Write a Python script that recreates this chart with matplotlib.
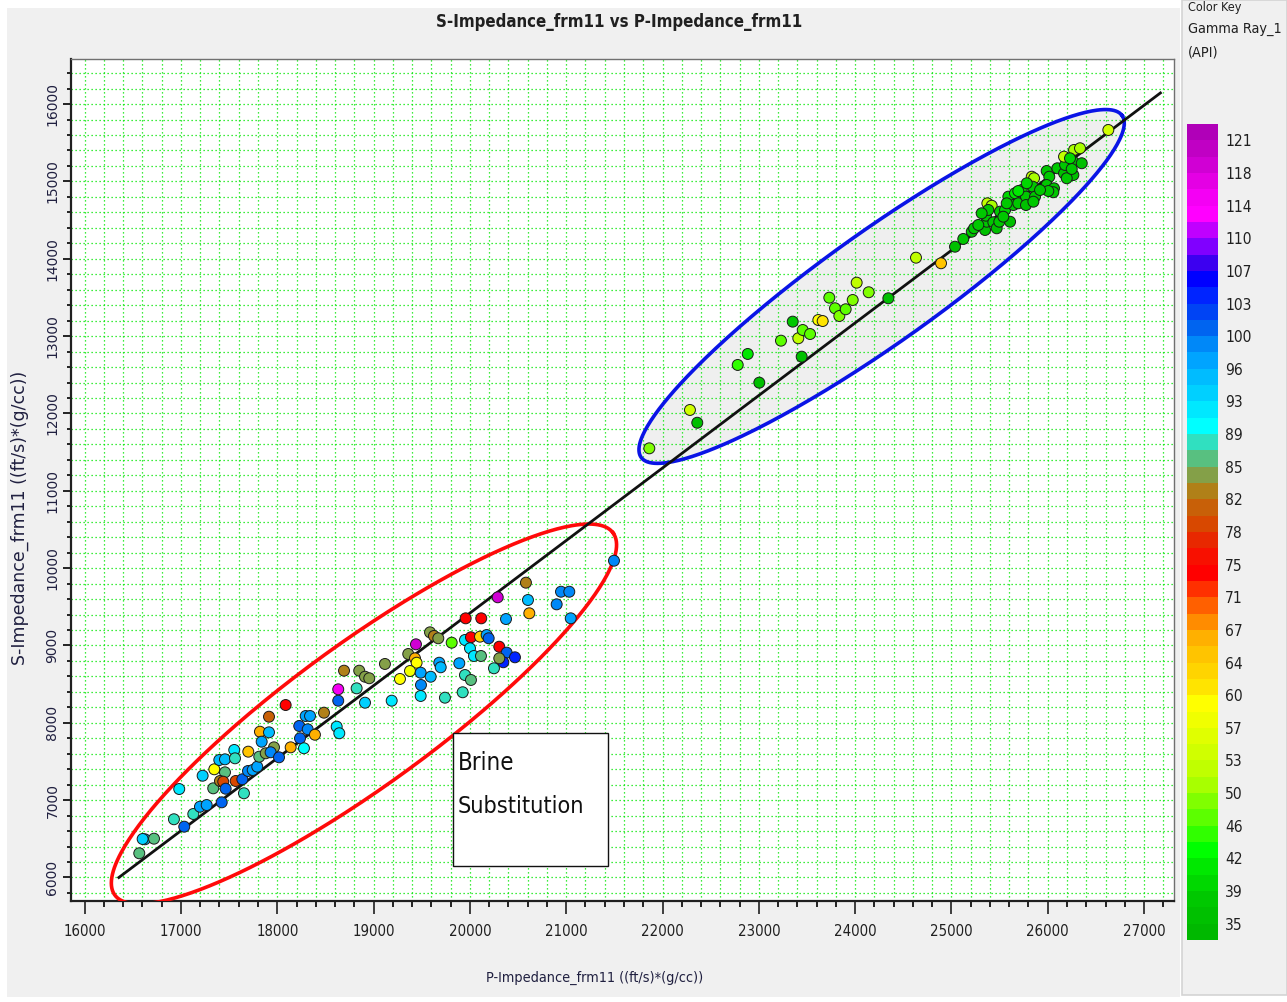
import numpy as np
import matplotlib
matplotlib.use("Agg")
import matplotlib.pyplot as plt
from matplotlib.colors import ListedColormap, BoundaryNorm
from matplotlib.patches import Rectangle, Polygon
from matplotlib.ticker import MultipleLocator, StrMethodFormatter
from matplotlib import font_manager as fm

# ---------------- data ----------------
# Brine-substituted samples (red ellipse)
brine_p = [16626, 16602, 16720, 16567, 16927, 17034, 17128, 17197, 17267, 16982,
           17225, 17335, 17346, 17398, 17457, 17457, 17405, 17439, 17464, 17423,
           17568, 17553, 17561, 17637, 17654, 17699, 17696, 17745, 17792, 17820,
           17914, 17914, 17838, 17813, 17880, 17966, 17931, 18018, 18087, 18139,
           18228, 18295, 18340, 18316, 18236, 18277, 18391, 18485, 18633, 18633,
           18617, 18644, 18693, 18824, 18911, 18851, 18911, 18955,
           21496, 20582, 20946, 21032, 20901, 20289, 20603, 20617, 20375, 21047,
           19956, 20118, 19586, 19627, 19672, 19440, 19811, 19949, 20011, 20105,
           20174, 20195, 20001, 20042, 20115, 20305, 20382, 20468, 20347, 20305,
           20250, 19360, 19430, 19447, 19378, 19118, 19274, 19489, 19492, 19489,
           19593, 19682, 19697, 19890, 19949, 20011, 19925, 19741, 19188]
brine_s = [6494, 6498, 6502, 6313, 6753, 6657, 6821, 6915, 6937, 7144,
           7316, 7153, 7399, 7519, 7528, 7360, 7248, 7239, 7148, 6972,
           7248, 7649, 7541, 7270, 7089, 7627, 7377, 7390, 7433, 7885,
           8079, 7877, 7756, 7562, 7606, 7683, 7619, 7554, 8230, 7683,
           7959, 8088, 8088, 7916, 7800, 7671, 7846, 8131, 8286, 8433,
           7950, 7865, 8674, 8446, 8260, 8674, 8596, 8576,
           10096, 9812, 9695, 9695, 9532, 9623, 9588, 9416, 9342, 9351,
           9351, 9351, 9170, 9123, 9093, 9015, 9036, 9071, 9106, 9114,
           9135, 9093, 8964, 8864, 8864, 8984, 8907, 8847, 8783, 8834,
           8705, 8890, 8834, 8777, 8670, 8761, 8567, 8648, 8489, 8347,
           8596, 8777, 8718, 8770, 8618, 8554, 8395, 8325, 8286]
brine_gr = [95, 93, 85.5, 85.5, 87.5, 100, 87.5, 96.3, 97, 92,
            93, 85.5, 59, 94.5, 95, 85.5, 82, 79, 100, 101,
            79, 92, 87, 100, 87.5, 64, 98.5, 97, 96.5, 66,
            80, 94.5, 96.3, 85.5, 84, 84, 99, 100, 74, 66,
            100, 97, 97, 99, 100, 89.5, 66, 82, 101, 114,
            92, 92, 82, 87.5, 93, 84, 84, 84,
            98, 82, 98.5, 98.5, 99, 119, 94.5, 67, 96.3, 96.3,
            74, 74, 84, 82, 84, 119, 46, 92, 74, 62,
            96.3, 101, 92, 92, 85.5, 74, 100, 104, 103.5, 84,
            87.5, 84, 67, 59.5, 58, 84, 59, 96.3, 98.5, 91,
            95, 96.3, 94.5, 96.3, 87.5, 85.5, 87.5, 87.5, 91]

# In-situ samples (blue ellipse)
insitu_p = [21863, 22285, 22361, 22781, 22885, 23005, 23230, 23352, 23445, 23410,
            23456, 23532, 23618, 23663, 23732, 23791, 23836, 23902, 23975, 24016,
            24141, 24345, 24632, 24892,
            25037, 25123, 25211, 25235, 25349, 25366, 25359, 25435, 25470, 25497,
            25373, 25418, 25383, 25504, 25557, 25609, 25539, 25591, 25660, 25643,
            25730, 25694, 25774, 25774, 25834, 25858, 25844, 25868, 25851, 25989,
            26016, 25989, 26065, 26058, 26006, 26100, 26169, 26180, 26169, 26273,
            26335, 26266, 26353, 26266, 26197, 26629, 26249, 26231, 25694, 25314,
            25279, 25574, 25782, 25920]
insitu_s = [11549, 12045, 11880, 12627, 12769, 12398, 12941, 13187, 12734, 12972,
            13079, 13027, 13208, 13195, 13497, 13360, 13260, 13347, 13467, 13691,
            13567, 13489, 14014, 13942,
            14156, 14256, 14350, 14394, 14372, 14479, 14557, 14472, 14394, 14479,
            14717, 14686, 14631, 14609, 14631, 14479, 14544, 14803, 14847, 14695,
            14889, 14717, 14803, 14695, 15061, 15041, 14932, 14803, 14738, 15135,
            15061, 14954, 14911, 14860, 14876, 15170, 15105, 15213, 15320, 15407,
            15429, 15255, 15235, 15083, 15041, 15665, 15161, 15299, 14876, 14588,
            14437, 14717, 14976, 14889]
insitu_gr = [49, 53, 35.5, 45, 41, 35.5, 47, 38, 35.5, 52,
             46, 46, 59.5, 61, 46, 47, 48, 46, 49, 52,
             48, 35.5, 52, 64,
             35.5, 37, 37, 38, 35.5, 37, 38, 37, 35.5, 37,
             52, 50, 38, 38, 39, 35.5, 38, 39, 41, 38,
             39, 38, 38, 35.5, 52, 50, 38, 38, 37, 38,
             38, 37, 35.5, 37, 38, 38, 35.5, 38, 52, 51,
             51, 37, 35.5, 35.5, 37, 53, 38, 40, 42, 38,
             37, 38, 39, 37]

# fitted trend line
fit_p = [16355, 27170]
fit_s = [6000, 16144]

# colour key
key_labels = ["35", "39", "42", "46", "50", "53", "57", "60", "64", "67", "71", "75",
              "78", "82", "85", "89", "93", "96", "100", "103", "107", "110", "114",
              "118", "121"]
gr_min, gr_max = 33.2, 122.8

# ---------------- style ----------------
key_colors_top_down = [
    '#b000b8', '#c000c4', '#d000d4', '#e400e4', '#f400f4', '#ff00ff', '#c000ff', '#8000ff',
    '#3c00f0', '#0000ff', '#0024ff', '#0044f4', '#0064f0', '#0088f8', '#00a4ff', '#00bcff',
    '#00d0ff', '#00e8ff', '#00ffff', '#30e0c0', '#58c080', '#84a048', '#b08018', '#c86008',
    '#d84800', '#e82800', '#f81000', '#ff0000', '#ff3000', '#ff6000', '#ff8c00', '#ffb000',
    '#ffc400', '#ffd400', '#ffe400', '#ffff00', '#f0ff00', '#e0ff00', '#d0ff00', '#c0ff00',
    '#a8ff00', '#80ff00', '#5cff00', '#30ff00', '#00ff00', '#00e800', '#00d800', '#00c800',
    '#00c000', '#00b800']
cmap = ListedColormap(key_colors_top_down[::-1])
bounds = np.linspace(gr_min, gr_max, len(key_colors_top_down) + 1)
norm = BoundaryNorm(bounds, cmap.N)

# narrow font selection
names = {f.name for f in fm.fontManager.ttflist}
cond_path = fm.findfont(fm.FontProperties(family='DejaVu Sans', stretch='condensed'))
if 'Liberation Sans Narrow' in names:
    NK = dict(family=['Liberation Sans Narrow', 'DejaVu Sans'])
    k = 1.0
elif 'Condensed' in cond_path:
    NK = dict(family=['DejaVu Sans'], fontstretch='condensed')
    k = 0.86
else:
    NK = dict(family=['DejaVu Sans'])
    k = 0.78

W, H = 1287, 1002
def fpx(x, y):
    return x / W, 1 - y / H

def narrow(lab):
    lab.set_family(NK['family'])
    if 'fontstretch' in NK:
        lab.set_fontstretch(NK['fontstretch'])

fig = plt.figure(figsize=(W / 100, H / 100), dpi=100, facecolor='white')
# panels
fig.patches.append(Rectangle(fpx(7, 997), 1173 / W, 989 / H, transform=fig.transFigure,
                             facecolor='#f0f0f0', edgecolor='none', zorder=-10))
fig.patches.append(Rectangle(fpx(1182, 995), 105 / W, 995 / H, transform=fig.transFigure,
                             facecolor='#f0f0f0', edgecolor='#d4d4d4', lw=1.2, zorder=-10))

ax = fig.add_axes([70.5 / W, 1 - 900.7 / H, (1174 - 70.5) / W, (900.7 - 59.3) / H])
ax.set_facecolor('white')
ax.set_xlim(15853, 27311)
ax.set_ylim(5700, 16579)
ax.set_axisbelow(True)

ax.xaxis.set_major_locator(MultipleLocator(1000))
ax.xaxis.set_minor_locator(MultipleLocator(200))
ax.yaxis.set_major_locator(MultipleLocator(1000))
ax.yaxis.set_minor_locator(MultipleLocator(200))
ax.xaxis.set_major_formatter(StrMethodFormatter('{x:.0f}'))
ax.yaxis.set_major_formatter(StrMethodFormatter('{x:.0f}'))
ax.grid(which='both', color='#00e600', linestyle=(0, (1, 2.2)), linewidth=0.9)

ax.tick_params(axis='x', which='major', direction='out', length=9, width=1.2, pad=8,
               labelsize=12.5 * k, colors='#202020')
ax.tick_params(axis='x', which='minor', direction='out', length=4, width=1.2)
ax.tick_params(axis='y', which='major', direction='out', length=6, width=1.2, pad=2,
               labelsize=10, labelrotation=90)
ax.tick_params(axis='y', which='minor', direction='out', length=3, width=1.2)
for lab in ax.get_xticklabels():
    narrow(lab)
for lab in ax.get_yticklabels():
    lab.set_va('center')
    lab.set_color('#202040')

for s in ['left', 'bottom']:
    ax.spines[s].set_linewidth(1.6)
    ax.spines[s].set_color('#202020')
for s in ['top', 'right']:
    ax.spines[s].set_linewidth(1.0)
    ax.spines[s].set_color('#707070')

# ellipses
t = np.linspace(0, 2 * np.pi, 400)
blue_c, blue_a, blue_b = (24275, 13642), (2497, 2210), (-337, 590)
bx = blue_c[0] + np.cos(t) * blue_a[0] + np.sin(t) * blue_b[0]
by = blue_c[1] + np.cos(t) * blue_a[1] + np.sin(t) * blue_b[1]
ax.add_patch(Polygon(np.column_stack([bx, by]), closed=True, facecolor='#efefef',
                     edgecolor='none', zorder=0.3))
ax.plot(bx, by, color='#0a14e6', lw=2.6, zorder=3)

red_c, red_a, red_b = (18900, 8114), (2587, 2341), (-433, 743)
rx = red_c[0] + np.cos(t) * red_a[0] + np.sin(t) * red_b[0]
ry = red_c[1] + np.cos(t) * red_a[1] + np.sin(t) * red_b[1]
ax.plot(rx, ry, color='#ff0a0a', lw=2.6, zorder=3)

# trend line
ax.plot(fit_p, fit_s, color='#111111', lw=2.0, zorder=4)

# points
ax.scatter(brine_p, brine_s, c=brine_gr, cmap=cmap, norm=norm, s=62,
           edgecolors='#1a1a1a', linewidths=0.7, zorder=5)
ax.scatter(insitu_p, insitu_s, c=insitu_gr, cmap=cmap, norm=norm, s=62,
           edgecolors='#1a1a1a', linewidths=0.7, zorder=5)

# annotation box
ax.add_patch(Rectangle((19824, 6149), 1610, 1719, facecolor='white', edgecolor='#111111',
                       lw=1.0, zorder=6))
ax.text(19876, 7480, 'Brine', fontsize=20 * k, va='center', ha='left',
        color='#101010', zorder=7, **NK)
ax.text(19876, 6924, 'Substitution', fontsize=19.5 * k, va='center', ha='left',
        color='#101010', zorder=7, **NK)

# titles / labels
fig.text(*fpx(619, 22), 'S-Impedance_frm11 vs P-Impedance_frm11', ha='center', va='center',
         fontsize=14 * k, weight='bold', color='#202020', **NK)
fig.text(*fpx(595, 978), 'P-Impedance_frm11 ((ft/s)*(g/cc))', ha='center', va='center',
         fontsize=12 * k, color='#202040', **NK)
fig.text(*fpx(20, 518), 'S-Impedance_frm11 ((ft/s)*(g/cc))', ha='center', va='center',
         rotation=90, fontsize=12.5, color='#202040')

# colour key
cax = fig.add_axes([1187 / W, 1 - 940 / H, 31 / W, 816 / H])
sm = plt.cm.ScalarMappable(norm=norm, cmap=cmap)
cb = fig.colorbar(sm, cax=cax, boundaries=bounds, spacing='proportional')
cb.outline.set_visible(False)
cb.set_ticks(bounds[1:-1:2])
cb.set_ticklabels(key_labels)
cax.tick_params(length=0, pad=5, labelsize=13 * k)
for lab in cax.get_yticklabels():
    narrow(lab)
    lab.set_color('#202020')
cax.minorticks_off()

fig.text(*fpx(1188, 8), 'Color Key', ha='left', va='center',
         fontsize=10.5 * k, color='#202020', **NK)
fig.text(*fpx(1188, 29), 'Gamma Ray_1', ha='left', va='center',
         fontsize=12 * k, color='#202020', **NK)
fig.text(*fpx(1188, 52), '(API)', ha='left', va='center',
         fontsize=12 * k, color='#202020', **NK)

fig.savefig('out.png', dpi=100, facecolor=fig.get_facecolor())
